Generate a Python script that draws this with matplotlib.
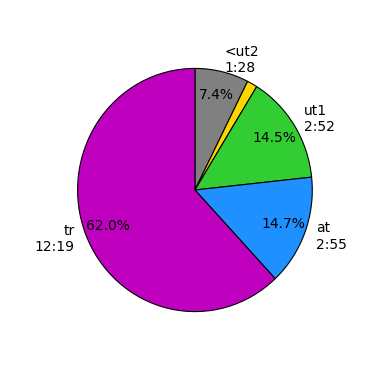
import matplotlib
matplotlib.use("Agg")
import matplotlib.pyplot as plt

names = ["<ut2", "", "ut1", "at", "tr"]
seconds = [88.4, 16.9, 172.9, 175.4, 739.7]
colors = ["#808080", "#FFD700", "#32CD32", "#1E90FF", "#BF00BF"]


def fmt_time(s):
    s = int(s)
    return f"{s // 60}:{s % 60:02d}"


labels = [f"{n}\n{fmt_time(s)}" if n else "" for n, s in zip(names, seconds)]

fig = plt.figure(figsize=(3.8, 3.8), dpi=100)
ax = fig.add_axes([0.127, 0.10, 0.772, 0.80])
ax.pie(seconds, labels=labels, colors=colors, startangle=90, counterclock=False,
       autopct=lambda p: f"{p:.1f}%" if p > 3 else "", pctdistance=0.8,
       wedgeprops=dict(edgecolor="black", linewidth=0.8))
ax.set_aspect("auto")
ax.set_xlim(-1.25, 1.25)
ax.set_ylim(-1.25, 1.25)
fig.savefig("out.png", dpi=100)
